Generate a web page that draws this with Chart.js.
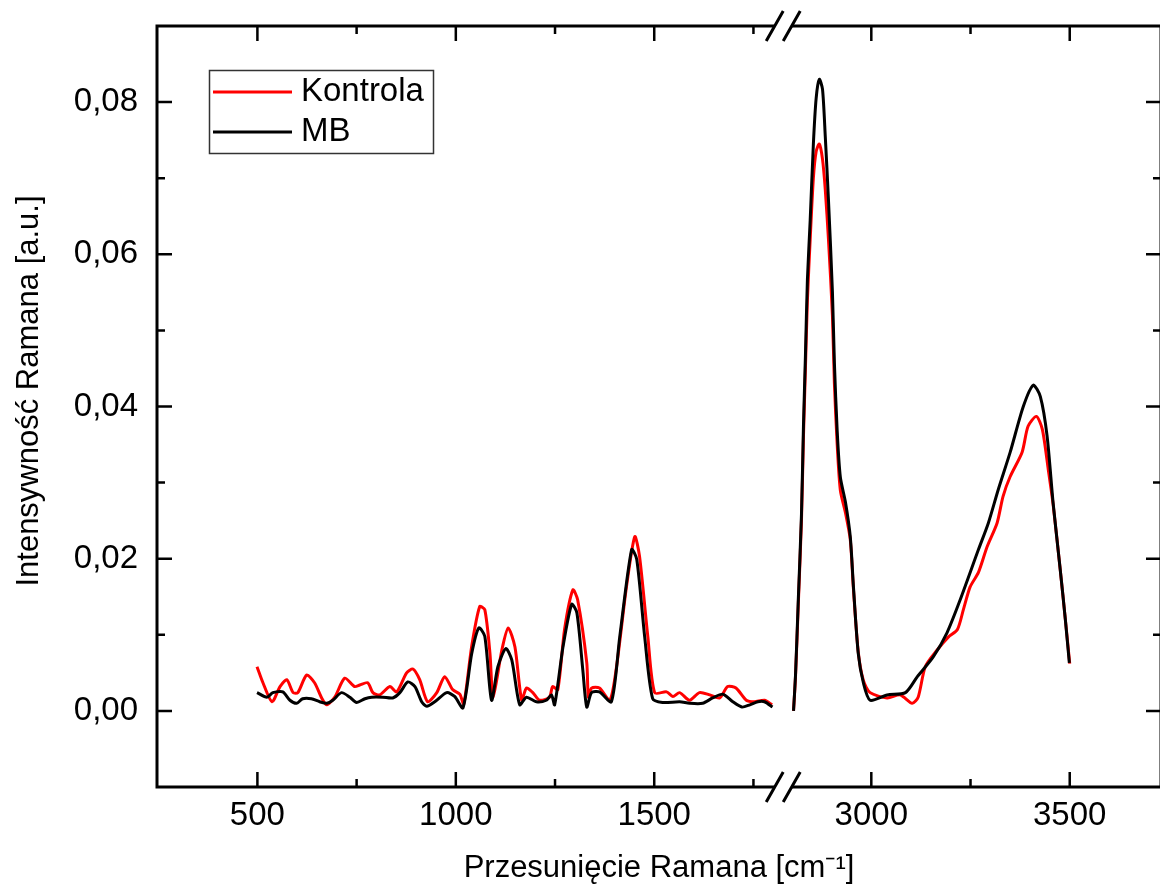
<!DOCTYPE html>
<html>
<head>
<meta charset="utf-8">
<script src="https://cdn.jsdelivr.net/npm/chart.js@4.4.1/dist/chart.umd.min.js"></script>
<style>
  html, body { margin: 0; padding: 0; background: #fff; }
  #wrap { width: 1160px; height: 888px; overflow: hidden; }
  #box { position: relative; width: 1172px; height: 888px; }
</style>
</head>
<body>
<div id="wrap"><div id="box"><canvas id="ramanChart"></canvas></div></div>
<script>
// Dane widma
const kontrolaLeftX = [499, 514, 537, 557, 574, 590, 602, 624, 644, 662, 675, 695, 720, 745, 758, 778, 791, 808, 834, 851,
  876, 892, 909, 929, 952, 972, 992, 1010, 1020, 1040, 1060, 1073, 1086, 1094, 1116, 1132, 1149, 1166, 1178, 1194,
  1211, 1236, 1244, 1257, 1274, 1295, 1307, 1330, 1334, 1342, 1362, 1388, 1405, 1430, 1451, 1463, 1484, 1501, 1531, 1547,
  1564, 1589, 1614, 1640, 1665, 1685, 1706, 1732, 1752, 1778, 1797];
const kontrolaLeftY = [0.0058, 0.0037, 0.0012, 0.0032, 0.0041, 0.0024, 0.0024, 0.0047, 0.0037, 0.0017, 0.0008, 0.0018, 0.0043, 0.0032, 0.0034, 0.0037, 0.0024, 0.0021, 0.0032, 0.0025,
  0.0050, 0.0055, 0.0041, 0.0012, 0.0024, 0.0045, 0.0028, 0.0022, 0.0009, 0.0085, 0.0137, 0.0133, 0.0076, 0.0018, 0.0080, 0.0109, 0.0084, 0.0014, 0.0030, 0.0024,
  0.0014, 0.0018, 0.0032, 0.0028, 0.0107, 0.0159, 0.0146, 0.0063, 0.0018, 0.0030, 0.0030, 0.0014, 0.0058, 0.0163, 0.0229, 0.0203, 0.0097, 0.0024, 0.0025, 0.0019,
  0.0024, 0.0014, 0.0024, 0.0021, 0.0017, 0.0032, 0.0030, 0.0014, 0.0012, 0.0014, 0.0008];
const kontrolaRightX = [2804, 2809, 2816, 2824, 2829, 2834, 2839, 2846, 2854, 2861, 2869, 2877, 2884, 2892, 2902, 2907, 2914, 2922, 2935, 2947,
  2955, 2967, 2980, 2997, 3040, 3073, 3103, 3118, 3136, 3166, 3194, 3217, 3232, 3249, 3270, 3292, 3317, 3332, 3350, 3380,
  3395, 3416, 3431, 3446, 3458, 3476, 3489, 3500];
const kontrolaRightY = [0.0000, 0.0045, 0.0140, 0.0250, 0.0360, 0.0450, 0.0540, 0.0620, 0.0700, 0.0735, 0.0745, 0.0725, 0.0685, 0.0620, 0.0520, 0.0430, 0.0350, 0.0290, 0.0260, 0.0225,
  0.0160, 0.0078, 0.0040, 0.0024, 0.0017, 0.0021, 0.0010, 0.0018, 0.0058, 0.0080, 0.0097, 0.0107, 0.0133, 0.0163, 0.0182, 0.0216, 0.0247, 0.0282, 0.0308, 0.0340,
  0.0374, 0.0387, 0.0370, 0.0317, 0.0272, 0.0186, 0.0120, 0.0062];

const mbLeftX = [499, 524, 539, 564, 582, 599, 614, 636, 657, 675, 690, 712, 733, 750, 771, 788, 816, 841, 859, 879,
  897, 914, 927, 947, 977, 997, 1018, 1040, 1058, 1073, 1090, 1106, 1126, 1141, 1161, 1178, 1203, 1228, 1241, 1249,
  1270, 1292, 1305, 1320, 1330, 1342, 1362, 1392, 1413, 1443, 1456, 1476, 1496, 1521, 1564, 1589, 1622, 1647, 1673, 1698,
  1721, 1741, 1761, 1778, 1798];
const mbLeftY = [0.0024, 0.0018, 0.0024, 0.0025, 0.0014, 0.0010, 0.0016, 0.0016, 0.0012, 0.0010, 0.0014, 0.0024, 0.0018, 0.0011, 0.0016, 0.0018, 0.0018, 0.0017, 0.0024, 0.0038,
  0.0032, 0.0012, 0.0006, 0.0012, 0.0024, 0.0019, 0.0004, 0.0075, 0.0109, 0.0098, 0.0014, 0.0058, 0.0082, 0.0067, 0.0008, 0.0018, 0.0012, 0.0014, 0.0021, 0.0008,
  0.0084, 0.0140, 0.0129, 0.0054, 0.0005, 0.0024, 0.0025, 0.0012, 0.0097, 0.0212, 0.0199, 0.0097, 0.0016, 0.0011, 0.0012, 0.0010, 0.0010, 0.0017, 0.0022, 0.0012,
  0.0005, 0.0008, 0.0012, 0.0012, 0.0005];
const mbRightX = [2804, 2809, 2816, 2824, 2829, 2834, 2839, 2846, 2854, 2861, 2869, 2877, 2884, 2892, 2902, 2907, 2914, 2922, 2935, 2947,
  2955, 2967, 2980, 2997, 3040, 3086, 3116, 3156, 3191, 3224, 3270, 3295, 3320, 3350, 3383, 3408, 3426, 3443, 3458, 3476,
  3489, 3499];
const mbRightY = [0.0000, 0.0047, 0.0146, 0.0258, 0.0374, 0.0467, 0.0567, 0.0645, 0.0745, 0.0805, 0.0830, 0.0817, 0.0755, 0.0672, 0.0551, 0.0457, 0.0368, 0.0307, 0.0274, 0.0229,
  0.0163, 0.0076, 0.0037, 0.0014, 0.0021, 0.0024, 0.0045, 0.0071, 0.0103, 0.0146, 0.0212, 0.0247, 0.0291, 0.0340, 0.0400, 0.0428, 0.0413, 0.0361, 0.0274, 0.0186,
  0.0120, 0.0063];

const seriesLabels = ['Kontrola', 'MB'];
const seriesColors = ['#ff0000', '#000000'];

// Osie
const xMajorTicks = [500, 1000, 1500, 3000, 3500];
const xMinorTicks = [750, 1250, 1750, 3250];
const yMajorTicks = [0, 0.02, 0.04, 0.06, 0.08];
const yMinorTicks = [0.01, 0.03, 0.05, 0.07];
const yTitle = 'Intensywność Ramana [a.u.]';
const xTitle = 'Przesunięcie Ramana [cm⁻¹]';

// Przerwa osi X
const X_MIN = 247;
const X_MAX = 3730;
const BREAK_LO = 1825;
const BREAK_HI = 2778;

function toAxis(v) {
    return v <= BREAK_LO ? v : v - (BREAK_HI - BREAK_LO);
}

function buildPoints(lx, ly, rx, ry) {
    const pts = lx.map((v, i) => ({ x: toAxis(v), y: ly[i] }));
    pts.push({ x: toAxis(BREAK_LO), y: null });
    rx.forEach((v, i) => pts.push({ x: toAxis(v), y: ry[i] }));
    return pts;
}

const FONT = "'Liberation Sans', Arial, sans-serif";

// Ramka, podziałki, znak przerwy, tytuł osi Y i legenda
const framePlugin = {
    id: 'frame',
    afterDraw(chart) {
        const { ctx, chartArea: a, scales } = chart;
        const xs = scales.x, ys = scales.y;
        const bx = xs.getPixelForValue(toAxis(BREAK_LO));
        const gap = 8.5;
        ctx.save();
        ctx.strokeStyle = '#000';
        ctx.lineWidth = 3;
        ctx.lineCap = 'butt';
        ctx.beginPath();
        // lewa i prawa oś
        ctx.moveTo(a.left, a.top - 1.5); ctx.lineTo(a.left, a.bottom + 1.5);
        ctx.moveTo(a.right, a.top - 1.5); ctx.lineTo(a.right, a.bottom + 1.5);
        // górna i dolna oś z przerwą
        [a.top, a.bottom].forEach(yy => {
            ctx.moveTo(a.left, yy); ctx.lineTo(bx - gap, yy);
            ctx.moveTo(bx + gap, yy); ctx.lineTo(a.right, yy);
        });
        ctx.stroke();

        // podziałki (do wewnątrz)
        ctx.lineWidth = 2.5;
        ctx.beginPath();
        const tickX = (list, len) => list.forEach(v => {
            const px = xs.getPixelForValue(toAxis(v));
            ctx.moveTo(px, a.bottom); ctx.lineTo(px, a.bottom - len);
            ctx.moveTo(px, a.top); ctx.lineTo(px, a.top + len);
        });
        const tickY = (list, len) => list.forEach(v => {
            const py = ys.getPixelForValue(v);
            ctx.moveTo(a.left, py); ctx.lineTo(a.left + len, py);
            ctx.moveTo(a.right, py); ctx.lineTo(a.right - len, py);
        });
        tickX(xMajorTicks, 15);
        tickX(xMinorTicks, 8);
        tickY(yMajorTicks, 15);
        tickY(yMinorTicks, 8);
        ctx.stroke();

        // znak przerwy //
        ctx.lineWidth = 3;
        ctx.beginPath();
        [a.top, a.bottom].forEach(yy => {
            [-gap, gap].forEach(off => {
                ctx.moveTo(bx + off - 8.5, yy + 15);
                ctx.lineTo(bx + off + 8.5, yy - 15);
            });
        });
        ctx.stroke();

        // tytuł osi Y
        ctx.fillStyle = '#000';
        ctx.font = '31px ' + FONT;
        ctx.textAlign = 'center';
        ctx.textBaseline = 'middle';
        ctx.save();
        ctx.translate(29, 391);
        ctx.rotate(-Math.PI / 2);
        ctx.fillText(yTitle, 0, 0);
        ctx.restore();

        // legenda
        const lx = 209, ly = 70, lw = 224, lh = 83;
        ctx.lineWidth = 1.5;
        ctx.strokeStyle = '#333';
        ctx.strokeRect(lx + 0.5, ly + 0.5, lw, lh);
        ctx.font = '33px ' + FONT;
        ctx.textBaseline = 'middle';
        ctx.textAlign = 'left';
        seriesLabels.forEach((label, i) => {
            const yy = ly + 22 + i * 40;
            ctx.strokeStyle = seriesColors[i];
            ctx.lineWidth = 3;
            ctx.beginPath();
            ctx.moveTo(lx + 4, yy); ctx.lineTo(lx + 83, yy);
            ctx.stroke();
            ctx.fillStyle = '#000';
            ctx.fillText(label, lx + 92, yy);
        });
        ctx.restore();
    }
};

document.addEventListener('DOMContentLoaded', function() {
    const ctx = document.getElementById('ramanChart').getContext('2d');
    new Chart(ctx, {
        type: 'line',
        data: {
            datasets: [{
                label: seriesLabels[0],
                data: buildPoints(kontrolaLeftX, kontrolaLeftY, kontrolaRightX, kontrolaRightY),
                borderColor: seriesColors[0],
                borderWidth: 3,
                pointRadius: 0,
                tension: 0.25,
                spanGaps: false,
                order: 2
            }, {
                label: seriesLabels[1],
                data: buildPoints(mbLeftX, mbLeftY, mbRightX, mbRightY),
                borderColor: seriesColors[1],
                borderWidth: 3,
                pointRadius: 0,
                tension: 0.25,
                spanGaps: false,
                order: 1
            }]
        },
        options: {
            responsive: true,
            maintainAspectRatio: false,
            animation: false,
            layout: { autoPadding: false, padding: { top: 26, right: 11, left: 0, bottom: 0 } },
            plugins: {
                legend: { display: false },
                tooltip: { enabled: false }
            },
            scales: {
                x: {
                    type: 'linear',
                    min: toAxis(X_MIN),
                    max: toAxis(X_MAX),
                    grid: { display: false, drawTicks: false },
                    border: { display: false },
                    afterBuildTicks: s => { s.ticks = xMajorTicks.map(v => ({ value: toAxis(v) })); },
                    afterFit: s => { s.height = 101; s.paddingLeft = 0; s.paddingRight = 0; },
                    ticks: {
                        padding: 9,
                        color: '#000',
                        font: { family: FONT, size: 33 },
                        maxRotation: 0,
                        callback: (val) => {
                            const i = xMajorTicks.findIndex(v => toAxis(v) === val);
                            return i >= 0 ? String(xMajorTicks[i]) : '';
                        }
                    },
                    title: {
                        display: true,
                        text: xTitle,
                        color: '#000',
                        font: { family: FONT, size: 31 },
                        padding: { top: 0, bottom: 1 }
                    }
                },
                y: {
                    min: -0.01,
                    max: 0.09,
                    grid: { display: false, drawTicks: false },
                    border: { display: false },
                    afterBuildTicks: s => { s.ticks = yMajorTicks.map(v => ({ value: v })); },
                    afterFit: s => { s.width = 157; s.paddingTop = 0; s.paddingBottom = 0; },
                    ticks: {
                        padding: 19,
                        color: '#000',
                        font: { family: FONT, size: 33 },
                        callback: v => v.toFixed(2).replace('.', ',')
                    },
                    title: { display: false }
                }
            }
        },
        plugins: [framePlugin]
    });
});
</script>
</body>
</html>
